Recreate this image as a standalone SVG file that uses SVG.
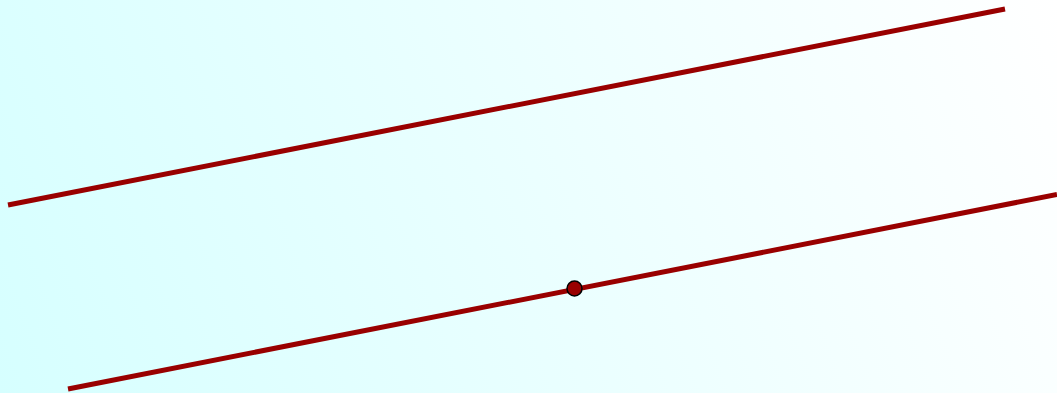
<svg xmlns="http://www.w3.org/2000/svg" width="1057" height="393" viewBox="0 0 1057 393">
<defs>
<linearGradient id="bg" x1="0" y1="393" x2="1057" y2="0" gradientUnits="userSpaceOnUse">
<stop offset="0" stop-color="#d6ffff"/>
<stop offset="1" stop-color="#ffffff"/>
</linearGradient>
<style>
.ln{stroke:#990000;stroke-width:5;fill:none}
.pt{fill:#990000;stroke:#000;stroke-width:1.5}
</style>
</defs>
<rect width="1057" height="393" fill="url(#bg)"/>
<g id="connectors">
<line class="ln" x1="8" y1="205" x2="1005" y2="9"/>
<line class="ln" x1="68" y1="389" x2="1057" y2="194.5"/>
</g>
<g id="point">
<circle class="pt" cx="574.5" cy="288.5" r="7.5"/>
</g>
</svg>
